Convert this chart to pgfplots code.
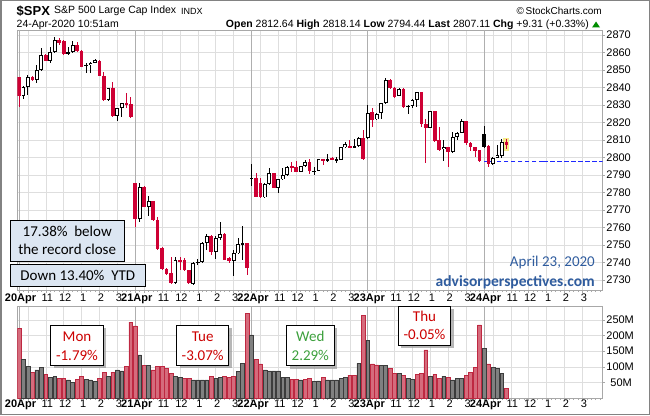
\documentclass[border=0pt]{standalone}
\usepackage{pgfplots}
\pgfplotsset{compat=1.18}
\usepackage{pgfplotstable}
\usepackage{fontspec}
\setmainfont{Liberation Sans}
\newfontfamily\calfont{Carlito}
\newcommand\fs[1]{\fontsize{#1pt}{#1pt}\selectfont}

\definecolor{cred}{RGB}{206,0,52}
\definecolor{vred}{RGB}{213,107,124}
\definecolor{vredd}{RGB}{190,40,65}
\definecolor{vgray}{RGB}{128,128,128}
\definecolor{vgrayd}{RGB}{60,60,60}
\definecolor{framegray}{RGB}{168,168,168}
\definecolor{gridgray}{RGB}{222,222,222}
\definecolor{daygray}{RGB}{175,175,175}
\definecolor{boxblue}{RGB}{220,230,242}
\definecolor{apblue}{RGB}{47,92,158}
\definecolor{monred}{RGB}{204,0,0}
\definecolor{wedgreen}{RGB}{60,160,60}
\definecolor{hlyellow}{RGB}{245,236,140}
\definecolor{dashblue}{RGB}{30,40,255}
\definecolor{outergray}{RGB}{130,130,130}

% k open high low close type (1 red filled, 0 hollow, 2 black filled)
\pgfplotstableread{
k o h l c t
0 2845.8 2846.0 2829.0 2835.1 1
1 2835.1 2840.8 2833.5 2840.5 0
2 2840.5 2847.2 2835.7 2845.8 0
3 2845.8 2846.6 2843.5 2844.3 1
4 2844.3 2852.8 2842.4 2850.0 0
5 2850.0 2862.4 2849.6 2858.6 0
6 2858.6 2859.0 2855.0 2855.3 1
7 2855.3 2863.3 2853.8 2860.5 0
8 2860.5 2869.0 2859.5 2867.1 0
9 2867.1 2868.1 2864.3 2865.2 1
10 2866.8 2867.0 2858.6 2859.1 1
11 2860.1 2863.3 2858.6 2859.3 2
12 2860.1 2866.8 2859.5 2864.3 0
13 2864.3 2866.2 2860.5 2861.0 1
14 2861.0 2861.5 2851.5 2851.9 1
15 2852.9 2853.8 2848.1 2852.3 2
16 2852.9 2854.8 2848.1 2854.2 0
17 2854.2 2856.3 2853.8 2855.7 0
18 2855.3 2855.7 2846.5 2846.8 1
19 2846.8 2848.7 2832.5 2832.9 1
20 2832.9 2839.7 2832.5 2839.5 0
21 2839.5 2843.0 2823.4 2823.7 1
22 2823.7 2828.3 2821.0 2828.1 0
23 2828.1 2831.2 2823.0 2831.0 0
24 2831.0 2837.0 2828.1 2830.4 1
25 2830.6 2834.4 2822.4 2823.2 1
26 2785.2 2785.5 2760.1 2764.9 1
27 2764.9 2785.5 2763.3 2783.3 0
28 2783.3 2783.5 2771.5 2771.9 1
29 2771.9 2778.0 2766.8 2775.1 0
30 2775.1 2775.3 2764.0 2764.3 1
31 2764.3 2766.0 2747.3 2747.7 1
32 2748.1 2748.7 2736.0 2736.3 1
33 2736.3 2736.7 2733.0 2733.4 1
34 2733.8 2743.3 2727.7 2728.1 1
35 2728.1 2743.0 2728.0 2741.4 0
36 2741.4 2743.3 2735.7 2740.5 1
37 2741.4 2742.4 2735.3 2735.7 1
38 2735.7 2736.0 2727.7 2728.1 1
39 2727.7 2740.2 2727.1 2739.9 0
40 2739.9 2741.8 2738.6 2740.5 0
41 2740.5 2751.9 2739.5 2751.0 0
42 2751.0 2756.3 2747.1 2755.1 0
43 2755.1 2755.6 2744.3 2746.2 1
44 2746.2 2755.1 2741.8 2754.2 0
45 2754.2 2763.3 2752.9 2756.1 0
46 2756.1 2756.7 2741.2 2741.4 1
47 2742.4 2743.3 2739.5 2741.0 1
48 2741.0 2747.1 2732.3 2745.2 0
49 2745.2 2753.8 2745.0 2750.4 0
50 2751.0 2760.9 2741.4 2750.4 2
51 2751.0 2751.2 2732.9 2736.6 1
52 2788.5 2796.1 2783.7 2787.9 2
53 2788.5 2791.0 2777.4 2777.6 1
54 2785.2 2788.1 2777.0 2777.2 1
55 2777.2 2785.5 2777.0 2784.9 0
56 2784.9 2793.8 2784.3 2791.0 0
57 2791.0 2791.3 2782.4 2782.8 1
58 2782.8 2787.7 2779.9 2787.5 0
59 2787.5 2793.8 2787.1 2790.0 0
60 2790.0 2795.0 2789.4 2794.8 0
61 2795.1 2797.6 2791.9 2793.8 1
62 2794.4 2798.2 2791.7 2791.9 1
63 2791.9 2795.3 2791.7 2795.1 0
64 2795.1 2798.6 2794.8 2797.2 0
65 2797.6 2798.9 2790.6 2792.5 1
66 2792.5 2794.8 2790.0 2791.9 2
67 2792.5 2799.1 2792.3 2798.95 0
68 2799.1 2799.3 2795.7 2798.5 1
69 2799.1 2802.0 2797.6 2798.5 2
70 2799.9 2800.1 2798.4 2798.6 1
71 2799.1 2800.5 2796.7 2798.5 2
72 2798.6 2806.0 2798.4 2805.8 0
73 2805.8 2809.0 2805.2 2807.5 0
74 2806.6 2810.0 2805.8 2806.0 1
75 2806.6 2810.6 2805.8 2806.0 2
76 2806.6 2811.5 2805.8 2811.3 0
77 2810.95 2815.7 2798.6 2799.3 1
78 2810.95 2830.0 2810.4 2825.6 0
79 2825.8 2828.1 2817.2 2821.4 1
80 2821.8 2825.2 2821.4 2824.7 0
81 2825.6 2831.2 2821.8 2830.95 0
82 2830.95 2845.2 2830.8 2844.3 0
83 2844.3 2844.9 2839.3 2839.5 1
84 2839.5 2840.5 2833.8 2834.8 1
85 2835.3 2839.5 2835.0 2839.0 0
86 2839.0 2839.5 2828.1 2829.0 1
87 2829.6 2830.0 2824.7 2829.0 2
88 2829.6 2833.2 2828.1 2832.9 0
89 2832.9 2837.6 2829.0 2837.2 0
90 2837.2 2837.6 2817.6 2819.0 1
91 2819.0 2822.0 2797.0 2817.0 1
92 2817.0 2826.8 2816.6 2826.6 0
93 2826.6 2826.8 2809.0 2809.6 1
94 2810.0 2817.6 2804.0 2804.3 1
95 2804.7 2810.0 2798.2 2805.8 0
96 2805.8 2806.0 2794.8 2803.0 1
97 2803.0 2814.8 2802.8 2811.9 0
98 2811.9 2814.4 2810.0 2814.2 0
99 2814.2 2822.0 2813.8 2820.9 0
100 2820.9 2821.1 2807.1 2808.1 1
101 2808.1 2809.0 2803.9 2805.8 1
102 2805.8 2806.0 2800.5 2803.9 1
103 2804.3 2804.5 2797.6 2797.8 1
104 2813.4 2818.1 2805.2 2806.2 2
105 2806.6 2807.1 2794.4 2796.1 1
106 2796.1 2800.5 2795.7 2799.9 0
107 2799.9 2807.1 2799.5 2801.4 0
108 2801.0 2810.6 2799.5 2808.7 0
109 2809.0 2810.4 2804.7 2807.1 1
}\candles

% k volume(M) red
\pgfplotstableread{
k v r
0 223 1
1 124 0
2 102 0
3 82 1
4 90 0
5 98 0
6 76 1
7 66 0
8 68 0
9 63 1
10 63 1
11 58 0
12 50 0
13 60 1
14 68 1
15 60 0
16 58 0
17 54 0
18 63 1
19 82 1
20 70 0
21 83 1
22 90 0
23 87 0
24 101 1
25 243 1
26 231 1
27 138 0
28 104 1
29 104 0
30 90 1
31 101 1
32 101 1
33 94 1
34 79 1
35 70 0
36 66 0
37 63 1
38 63 1
39 58 0
40 58 0
41 58 0
42 58 0
43 70 1
44 62 0
45 66 0
46 68 1
47 66 1
48 70 1
49 86 0
50 111 0
51 271 1
52 202 0
53 124 1
54 109 1
55 90 0
56 87 0
57 87 0
58 87 0
59 66 0
60 66 0
61 60 1
62 60 1
63 58 0
64 60 1
65 63 1
66 52 0
67 55 0
68 66 1
69 58 0
70 58 0
71 58 0
72 63 0
73 66 0
74 73 1
75 73 1
76 111 0
77 266 1
78 184 0
79 109 1
80 106 1
81 104 0
82 104 0
83 94 1
84 79 1
85 79 0
86 73 1
87 63 0
88 60 0
89 76 1
90 78 1
91 154 1
92 70 0
93 76 1
94 63 1
95 70 0
96 66 1
97 58 0
98 63 0
99 63 0
100 72 1
101 83 1
102 98 1
103 234 1
104 159 0
105 109 1
106 98 0
107 95 0
108 79 0
109 31 1
}\vol

\pgfplotsset{
  stockaxis/.style={
    anchor=south west,
    x=4.471pt, xmin=-0.38, xmax=130.55,
    axis line style={draw=framegray, line width=0.8pt},
    xmajorgrids, ymajorgrids,
    grid style={draw=gridgray, line width=0.5pt},
    tick align=outside, xtick pos=left, ytick pos=right, yticklabel pos=right,
    major tick length=2.5pt, minor tick length=2pt,
    tick style={draw=framegray, line width=0.6pt},
    minor xtick={0,1,...,130},
    xtick={2,6,10,14,18,22,28,32,36,40,44,48,54,58,62,66,70,74,80,84,88,92,96,100,106,110,114,118,122,126},
    xticklabels={,11,12,1,2,3,,11,12,1,2,3,,11,12,1,2,3,,11,12,1,2,3,,11,12,1,2,3},
    extra x ticks={0,26,52,78,104},
    extra x tick labels={\textbf{20Apr},\textbf{21Apr},\textbf{22Apr},\textbf{23Apr},\textbf{24Apr}},
    extra x tick style={grid style={draw=daygray, line width=0.7pt}},
    ticklabel style={font=\fs{11}, text=black, inner sep=1pt},
    xticklabel style={xshift=1.5pt},
    /pgf/number format/assume math mode=true,
    /pgf/number format/1000 sep={},
  },
  wick/.style={draw=none, error bars/.cd, y dir=both, y explicit, error mark=none,
    error bar style={draw=#1, line width=0.9pt}},
  body/.style 2 args={draw=none, error bars/.cd, y dir=both, y explicit, error mark=none,
    error bar style={draw=#1, line width=#2}},
}

\begin{document}
\begin{tikzpicture}[x=1pt,y=1pt]
\path[use as bounding box] (0,0) rectangle (650,415);

% ---------- price panel ----------
\begin{axis}[stockaxis, at={(17.3pt,125pt)},
  y=1.75pt, ymin=2724.3, ymax=2872.9,
  ytick={2730,2740,...,2870}]
% previous close (dashed, from the 24Apr open to the right edge)
\addplot[draw=none, error bars/.cd, x dir=both, x explicit, error mark=none,
  error bar style={draw=dashblue, line width=1.6pt, dash pattern=on 4.5pt off 2.5pt}]
  coordinates {(117.3,2797.8) +- (13.3,0)};
% highlight of the last candle
\addplot[body={hlyellow}{6pt}] coordinates {(109,2807.45) +- (0,3.55)};
% wicks
\addplot[restrict expr to domain={\thisrow{t}}{0.5:1.5}, wick=cred]
  table[x=k, y expr={(\thisrow{h}+\thisrow{l})/2}, y error expr={(\thisrow{h}-\thisrow{l})/2}] {\candles};
\addplot[restrict expr to domain={\thisrow{t}}{-0.5:0.5}, wick=black]
  table[x=k, y expr={(\thisrow{h}+\thisrow{l})/2}, y error expr={(\thisrow{h}-\thisrow{l})/2}] {\candles};
\addplot[restrict expr to domain={\thisrow{t}}{1.5:2.5}, wick=black]
  table[x=k, y expr={(\thisrow{h}+\thisrow{l})/2}, y error expr={(\thisrow{h}-\thisrow{l})/2}] {\candles};
% bodies
\addplot[restrict expr to domain={\thisrow{t}}{0.5:1.5}, body={cred}{3.6pt}]
  table[x=k, y expr={(\thisrow{o}+\thisrow{c})/2}, y error expr={max(abs(\thisrow{o}-\thisrow{c})/2,0.3)}] {\candles};
\addplot[restrict expr to domain={\thisrow{t}}{1.5:2.5}, body={black}{3.6pt}]
  table[x=k, y expr={(\thisrow{o}+\thisrow{c})/2}, y error expr={max(abs(\thisrow{o}-\thisrow{c})/2,0.3)}] {\candles};
\addplot[restrict expr to domain={\thisrow{t}}{-0.5:0.5}, body={black}{3.8pt}]
  table[x=k, y expr={(\thisrow{o}+\thisrow{c})/2}, y error expr={max(abs(\thisrow{o}-\thisrow{c})/2,0.3)}] {\candles};
\addplot[restrict expr to domain={\thisrow{t}}{-0.5:0.5}, body={white}{2.0pt}]
  table[x=k, y expr={(\thisrow{o}+\thisrow{c})/2}, y error expr={max(abs(\thisrow{o}-\thisrow{c})/2-0.5,0)}] {\candles};
\end{axis}

% ---------- volume panel ----------
\begin{axis}[stockaxis, at={(17.3pt,17pt)},
  y=0.312pt, ymin=0, ymax=292.6,
  ytick={50,100,150,200,250},
  yticklabels={50M,100M,150M,200M,250M},
  yticklabel style={text width=25.5pt, align=right},
  xticklabel style={yshift=1.5pt}]
\addplot[ybar, bar width=3.8pt, bar shift=0pt, fill=vred, draw=vredd, line width=0.6pt,
  restrict expr to domain={\thisrow{r}}{0.5:1.5}] table[x=k, y=v] {\vol};
\addplot[ybar, bar width=3.8pt, bar shift=0pt, fill=vgray, draw=vgrayd, line width=0.6pt,
  restrict expr to domain={\thisrow{r}}{-0.5:0.5}] table[x=k, y=v] {\vol};
\end{axis}

% ---------- header ----------
\node[anchor=west, inner sep=0] at (16.5,404) {\fs{13}\bfseries \$SPX};
\node[anchor=west, inner sep=0] at (54,404) {\fs{10.5}S\&P 500 Large Cap Index};
\node[anchor=west, inner sep=0] at (181,404) {\fs{9}INDX};
\node[anchor=east, inner sep=0] at (602,404) {\fs{10}©\,StockCharts.com};
\node[anchor=west, inner sep=0] at (16.5,390.5) {\fs{10.5}24-Apr-2020 10:51am};
\node[anchor=east, inner sep=0] at (589,390.5) {\fs{10.5}\textbf{Open} 2812.64 \textbf{High} 2818.14 \textbf{Low} 2794.44 \textbf{Last} 2807.11 \textbf{Chg} +9.31 (+0.33\%)};
\fill[green!55!black] (592,387.5) -- (600,387.5) -- (596,393.5) -- cycle;

% ---------- annotation boxes ----------
\draw[fill=boxblue, draw=black, line width=0.8pt] (10,153.3) rectangle (124.3,194.3);
\node[inner sep=0] at (67.2,183.3) {\calfont\fs{15}17.38\%\ \ below};
\node[inner sep=0] at (67.2,165.7) {\calfont\fs{15}the record close};
\draw[fill=boxblue, draw=black, line width=0.8pt] (10,129) rectangle (145.7,150.7);
\node[inner sep=0] at (77.8,139.6) {\calfont\fs{15}Down 13.40\%\ \ YTD};

\node[anchor=east, inner sep=0, text=apblue] at (595,152) {\calfont\fs{15}April 23, 2020};
\node[anchor=east, inner sep=0, text=apblue] at (595,133) {\calfont\fs{15.5}\bfseries advisorperspectives.com};

\foreach \xa/\xb/\ya/\yb in {50.7/103.3/50/90, 176.7/228.7/50/90, 286.7/334/49.3/90, 398.3/450.7/70/109}{
  \fill[black!40, opacity=0.7] (\xa+3,\ya-3) rectangle (\xb+3,\yb-3);
  \draw[fill=white, draw=black, line width=0.8pt] (\xa,\ya) rectangle (\xb,\yb);
}
\node[inner sep=0, text=monred] at (77,78.3) {\calfont\fs{15}Mon};
\node[inner sep=0, text=monred] at (77,60) {\calfont\fs{15}-1.79\%};
\node[inner sep=0, text=monred] at (202.7,78.3) {\calfont\fs{15}Tue};
\node[inner sep=0, text=monred] at (202.7,60) {\calfont\fs{15}-3.07\%};
\node[inner sep=0, text=wedgreen] at (310.3,78.3) {\calfont\fs{15}Wed};
\node[inner sep=0, text=wedgreen] at (310.3,60) {\calfont\fs{15}2.29\%};
\node[inner sep=0, text=monred] at (424.5,98.3) {\calfont\fs{15}Thu};
\node[inner sep=0, text=monred] at (424.5,80.7) {\calfont\fs{15}-0.05\%};

% outer frame
\draw[draw=outergray, line width=1.5pt] (0.75,0.75) rectangle (649.25,414.25);
\end{tikzpicture}
\end{document}
